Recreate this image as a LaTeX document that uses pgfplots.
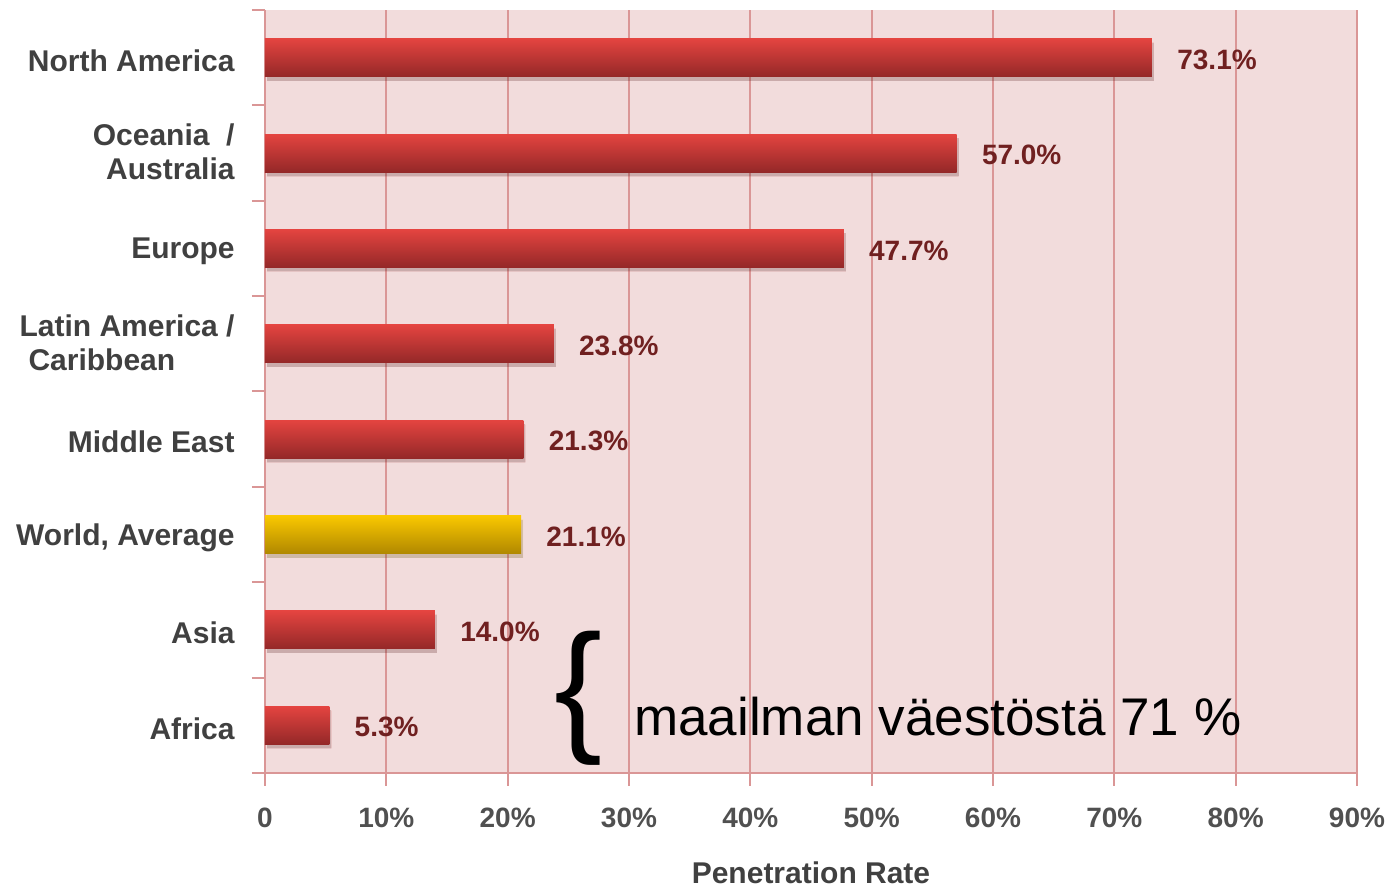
\documentclass[border=0pt]{standalone}
\usepackage{pgfplots}
\pgfplotsset{compat=1.18}
\usepackage{fontspec}
\setmainfont{Liberation Sans}
\usetikzlibrary{shadows}
\definecolor{bgpink}{RGB}{242,220,220}
\definecolor{gridred}{RGB}{218,150,150}
\definecolor{bartop}{RGB}{228,68,64}
\definecolor{barbot}{RGB}{148,40,40}
\definecolor{goldtop}{RGB}{250,200,0}
\definecolor{goldbot}{RGB}{176,136,0}
\definecolor{valred}{RGB}{112,32,32}
\definecolor{labgray}{RGB}{64,64,64}
\definecolor{tickgray}{RGB}{80,80,80}
\pgfplotsset{
  redbar/.style={draw=none, top color=bartop, bottom color=barbot,
    drop shadow={shadow xshift=1pt, shadow yshift=-2pt, opacity=0.13, fill=black}},
  goldbar/.style={draw=none, top color=goldtop, bottom color=goldbot,
    drop shadow={shadow xshift=1pt, shadow yshift=-2pt, opacity=0.13, fill=black}},
}
\begin{document}
\begin{tikzpicture}
\begin{axis}[
  name=ax,
  scale only axis,
  width=546pt, height=381.5pt,
  xbar, bar width=19pt, bar shift=0pt,
  xmin=0, xmax=90, ymin=-0.5, ymax=7.5,
  axis lines*=left,
  axis line style={draw=gridred, line width=1.2pt},
  axis background/.style={fill=bgpink},
  xtick={0,10,...,90},
  xticklabels={0,10\%,20\%,30\%,40\%,50\%,60\%,70\%,80\%,90\%},
  minor xtick={0,10,...,90},
  ytick={0,...,7},
  yticklabels={Africa, Asia, {World, Average}, Middle East,
    {\begin{tabular}{@{}l@{}}Latin America /\\\hspace{4.5pt}Caribbean\end{tabular}},
    Europe,
    {\begin{tabular}{@{}r@{}}Oceania\ \ /\\Australia\end{tabular}},
    North America},
  minor ytick={-0.5,0.5,...,7.5},
  major tick length=0pt,
  minor tick length=6.5pt,
  tick align=outside,
  minor tick style={draw=gridred, line width=1pt},
  xmajorgrids,
  major grid style={draw=gridred, line width=1pt},
  yticklabel style={font=\fontsize{15}{17}\selectfont\bfseries, text=labgray, anchor=east, inner sep=0pt, xshift=-15pt, yshift=-1.5pt},
  xticklabel style={font=\fontsize{14}{16}\selectfont\bfseries, text=tickgray, anchor=center, yshift=-22.5pt},
  xlabel={Penetration Rate},
  xlabel style={at={(axis description cs:0.5,0)}, anchor=center, yshift=-50pt, font=\fontsize{15}{17}\selectfont\bfseries, text=labgray},
  /pgf/number format/assume math mode=true,
  nodes near coords={\pgfmathprintnumber[fixed,fixed zerofill,precision=1]{\pgfplotspointmeta}\%},
  point meta=x,
  every node near coord/.append style={anchor=west, inner sep=0pt, xshift=12.5pt, yshift=-1pt, font=\fontsize{14}{16}\selectfont\bfseries, text=valred},
]
\addplot[redbar] coordinates {(5.3,0)};
\addplot[redbar] coordinates {(14.0,1)};
\addplot[goldbar] coordinates {(21.1,2)};
\addplot[redbar] coordinates {(21.3,3)};
\addplot[redbar] coordinates {(23.8,4)};
\addplot[redbar] coordinates {(47.7,5)};
\addplot[redbar] coordinates {(57.0,6)};
\addplot[redbar] coordinates {(73.1,7)};
\node[anchor=base west, inner sep=0pt, font=\fontsize{72}{72}\selectfont] at (axis cs:23.82,-0.102) {\{};
\node[anchor=base west, inner sep=0pt, font=\fontsize{26.5}{30}\selectfont] at (axis cs:30.41,-0.102) {maailman väestöstä 71 \%};
\end{axis}
\pgfresetboundingbox
\path[use as bounding box] ([xshift=-132.5pt,yshift=-57pt]ax.south west) rectangle ([xshift=14pt,yshift=5pt]ax.north east);
\end{tikzpicture}
\end{document}
